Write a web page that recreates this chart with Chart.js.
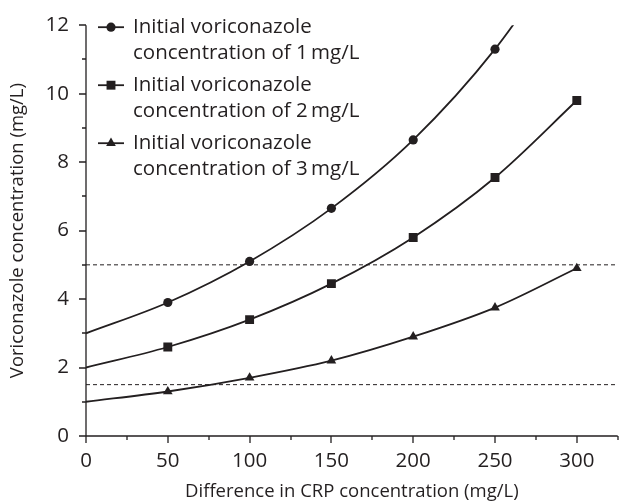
<!DOCTYPE html>
<html>
<head>
<meta charset="utf-8">
<script src="https://cdn.jsdelivr.net/npm/chart.js@4.4.0/dist/chart.umd.min.js"></script>
<style>
  html, body { margin: 0; padding: 0; background: #fff; }
  #wrap { width: 624px; height: 503px; }
</style>
</head>
<body>
<div id="wrap"><canvas id="grafico" width="624" height="503"></canvas></div>
<script>
const crp = [0, 50, 100, 150, 200, 250, 300];
const conc1mg = [3, 3.9, 5.1, 6.65, 8.65, 11.3, 14.7];
const conc2mg = [2, 2.6, 3.4, 4.45, 5.8, 7.55, 9.8];
const conc3mg = [1, 1.3, 1.7, 2.2, 2.9, 3.75, 4.9];
const legendas = [
  ['Initial voriconazole', 'concentration of 1\u2009mg/L'],
  ['Initial voriconazole', 'concentration of 2\u2009mg/L'],
  ['Initial voriconazole', 'concentration of 3\u2009mg/L']
];
const limiares = [5, 1.5];
const xLimites = [0, 325];
const yLimites = [0, 12];

const cor = '#231f20';
const fonte = "'Open Sans', 'Noto Sans', sans-serif";
const estilos = ['circle', 'rect', 'triangle'];
const tamanhos = [4.6, 6.3, 5.6];

function pontos(ys) {
  return crp.map((x, i) => ({ x, y: ys[i] }));
}

// marker only where the reference shows one
function raios(ys, r, semUltimo) {
  return ys.map((v, i) => (i === 0 || (semUltimo && i === ys.length - 1)) ? 0 : r);
}

function serie(ys, i, semUltimo) {
  return {
    data: pontos(ys),
    borderColor: cor,
    backgroundColor: cor,
    borderWidth: 1.8,
    pointStyle: estilos[i],
    pointRadius: raios(ys, tamanhos[i], semUltimo),
    pointBorderWidth: 0,
    cubicInterpolationMode: 'monotone',
    fill: false
  };
}

function tracejada(y) {
  return {
    data: xLimites.map(x => ({ x, y })),
    borderColor: cor,
    borderWidth: 1,
    borderDash: [4, 3],
    pointRadius: 0,
    fill: false
  };
}

// axis ticks: long on labelled values, short in between
const marcas = {
  id: 'marcas',
  afterDraw(chart) {
    const ctx = chart.ctx;
    const xs = chart.scales.x, ys = chart.scales.y;
    const a = chart.chartArea;
    ctx.save();
    ctx.strokeStyle = cor;
    ctx.lineWidth = 1.3;
    ctx.beginPath();
    ctx.moveTo(a.left, a.top);
    ctx.lineTo(a.left, a.bottom);
    ctx.lineTo(a.right, a.bottom);
    for (let v = xLimites[0]; v <= xLimites[1]; v += 25) {
      const px = Math.round(xs.getPixelForValue(v));
      const len = v % 50 === 0 ? 7 : 4;
      ctx.moveTo(px, a.bottom);
      ctx.lineTo(px, a.bottom + len);
    }
    for (let v = yLimites[0]; v <= yLimites[1]; v += 1) {
      const py = Math.round(ys.getPixelForValue(v));
      const len = v % 2 === 0 ? 7 : 4;
      ctx.moveTo(a.left, py);
      ctx.lineTo(a.left - len, py);
    }
    ctx.stroke();
    ctx.restore();
  }
};

const legenda = {
  id: 'legenda',
  afterDraw(chart) {
    const ctx = chart.ctx;
    const a = chart.chartArea;
    ctx.save();
    ctx.font = '20.5px ' + fonte;
    ctx.textBaseline = 'middle';
    legendas.forEach((linhas, i) => {
      const y = a.top + 2 + i * 58;
      ctx.strokeStyle = cor;
      ctx.fillStyle = cor;
      ctx.lineWidth = 1.8;
      ctx.beginPath();
      ctx.moveTo(a.left + 12, y);
      ctx.lineTo(a.left + 38, y);
      ctx.stroke();
      Chart.helpers.drawPoint(ctx, { pointStyle: estilos[i], radius: tamanhos[i], borderWidth: 0 }, a.left + 25, y);
      ctx.fillText(linhas[0], a.left + 47, y);
      ctx.fillText(linhas[1], a.left + 47, y + 26);
    });
    ctx.restore();
  }
};

new Chart(document.getElementById('grafico'), {
  type: 'line',
  data: {
    datasets: [
      serie(conc1mg, 0, true),
      serie(conc2mg, 1, false),
      serie(conc3mg, 2, false),
      tracejada(limiares[0]),
      tracejada(limiares[1])
    ]
  },
  options: {
    responsive: false,
    animation: false,
    layout: { padding: { top: 16, right: 1, left: 0, bottom: 0 } },
    plugins: { legend: { display: false }, tooltip: { enabled: false } },
    scales: {
      x: {
        type: 'linear',
        min: xLimites[0],
        max: xLimites[1],
        border: { display: false },
        grid: { display: false, drawTicks: false },
        afterFit(s) { s.height = 67; },
        afterBuildTicks(s) {
          s.ticks = [];
          for (let v = 0; v <= 300; v += 50) s.ticks.push({ value: v });
        },
        ticks: {
          autoSkip: false,
          maxRotation: 0,
          padding: 13,
          color: cor,
          font: { family: fonte, size: 20.5 },
          callback: v => String(v)
        },
        title: {
          display: true,
          text: 'Difference in CRP concentration (mg/L)',
          color: cor,
          font: { family: fonte, size: 18.5 },
          padding: { top: 0, bottom: 0 }
        }
      },
      y: {
        min: yLimites[0],
        max: yLimites[1],
        border: { display: false },
        grid: { display: false, drawTicks: false },
        afterFit(s) { s.width = 86; },
        afterBuildTicks(s) {
          s.ticks = [];
          for (let v = 0; v <= 12; v += 2) s.ticks.push({ value: v });
        },
        ticks: {
          padding: 17,
          color: cor,
          font: { family: fonte, size: 20.5, lineHeight: 0.8 },
          callback: v => String(v)
        },
        title: {
          display: true,
          text: 'Voriconazole concentration (mg/L)',
          color: cor,
          font: { family: fonte, size: 18.5 },
          padding: { top: 7, bottom: 0 }
        }
      }
    }
  },
  plugins: [marcas, legenda]
});
</script>
</body>
</html>
